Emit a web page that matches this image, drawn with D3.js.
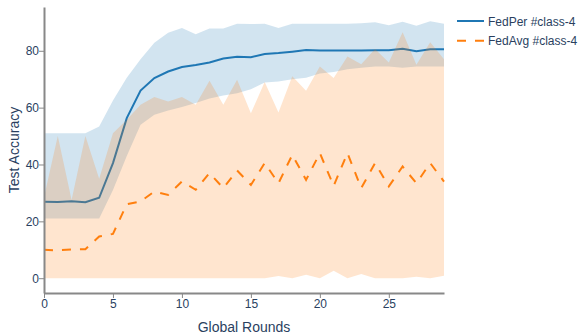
<!DOCTYPE html>
<html>
<head>
<meta charset="utf-8">
<script src="https://d3js.org/d3.v7.min.js"></script>
<style>
  body { margin: 0; background: #fff; }
  svg { font-family: "Liberation Sans", Arial, sans-serif; }
</style>
</head>
<body>
<div id="graph"></div>
<script>
window.onload = start;

var width = 581;
var height = 334;
var margin = { top: 7, bottom: 41, left: 44, right: 137 };

// global rounds
var rounds = [0, 1, 2, 3, 4, 5, 6, 7, 8, 9, 10, 11, 12, 13, 14, 15, 16, 17, 18, 19, 20, 21, 22, 23, 24, 25, 26, 27, 28, 29];

// FedPer #class-4 : mean and band
var fedPerMean = [26.9, 26.8, 27.1, 26.7, 28.3, 40.5, 56.3, 66, 70.4, 72.7, 74.3, 75, 75.9, 77.3, 77.9, 77.7, 78.9, 79.2, 79.7, 80.3, 80.1, 80.1, 80.1, 80.1, 80.2, 80.2, 80.7, 79.8, 80.5, 80.5];
var fedPerUpper = [51, 51, 51, 51, 53.4, 62.5, 70.5, 77, 82.8, 86.3, 88, 85.8, 87.8, 87.8, 89.5, 89.4, 89.5, 88, 89.5, 89.5, 89.5, 89.5, 89.5, 89.7, 90, 89, 90.2, 88.8, 90.4, 89.5];
var fedPerLower = [21, 21, 21, 21, 21, 31, 43, 54, 57.5, 59, 60.2, 61.6, 63.2, 64.3, 65.1, 66.5, 68.8, 69.2, 70, 70.5, 72, 72.5, 73.5, 74, 74.5, 74.5, 74, 74.5, 74.5, 74.5];

// FedAvg #class-4 : mean and band
var fedAvgMean = [10, 9.8, 10.1, 10.2, 14.7, 15.6, 26, 27, 30.5, 29.3, 34, 31.1, 37, 31.7, 37.9, 32.8, 40.5, 33.4, 43.4, 34.6, 44, 32.5, 44, 31.7, 40.5, 32.3, 39.3, 33.4, 40.5, 34];
var fedAvgUpper = [28.5, 50, 27.5, 50, 35, 51, 55.7, 61, 63.7, 62.2, 63.7, 61, 69.5, 61, 69.8, 58, 69, 58.3, 71, 65.9, 74.5, 70.4, 78, 75.3, 80.6, 75.9, 86.5, 75.1, 83, 77];
var fedAvgLower = [0, 0, 0, 0, 0, 0, 0, 0, 0, 0, 0, 0, 0, 0, 0, 0, 0, 0.8, 0, 1.2, 0, 2.6, 0, 1.5, 0, 0, 0, 0.5, 0, 0.9];

var xTicks = [0, 5, 10, 15, 20, 25];
var yTicks = [0, 20, 40, 60, 80];
var seriesNames = ["FedPer #class-4", "FedAvg #class-4"];

var textColor = "#2a3f5f";
var lineGray = "#888";
var blue = "#1f77b4";
var orange = "#ff7f0e";

function bandRows(upper, lower) {
  return rounds.map(function (r, i) {
    return { x: r, hi: upper[i], lo: lower[i] };
  });
}

function meanRows(mean) {
  return rounds.map(function (r, i) {
    return { x: r, y: mean[i] };
  });
}

/* MAIN FUNCTION */
function start() {
  var svg = d3.select("#graph")
    .append("svg")
    .attr("width", width)
    .attr("height", height);

  var xScale = d3.scaleLinear()
    .domain([0, 29])
    .range([margin.left, width - margin.right]);
  var yScale = d3.scaleLinear()
    .domain([-5.2, 95.4])
    .range([height - margin.bottom, margin.top]);

  var area = d3.area()
    .x(function (d) { return xScale(d.x); })
    .y0(function (d) { return yScale(d.lo); })
    .y1(function (d) { return yScale(d.hi); });
  var line = d3.line()
    .x(function (d) { return xScale(d.x); })
    .y(function (d) { return yScale(d.y); });

  // FedPer band + mean first, FedAvg drawn over it
  svg.append("path")
    .datum(bandRows(fedPerUpper, fedPerLower))
    .attr("d", area)
    .attr("fill", "rgba(31,119,180,0.2)");
  svg.append("path")
    .datum(meanRows(fedPerMean))
    .attr("d", line)
    .attr("fill", "none")
    .attr("stroke", blue)
    .attr("stroke-width", 2);

  svg.append("path")
    .datum(bandRows(fedAvgUpper, fedAvgLower))
    .attr("d", area)
    .attr("fill", "rgba(255,127,14,0.2)");
  svg.append("path")
    .datum(meanRows(fedAvgMean))
    .attr("d", line)
    .attr("fill", "none")
    .attr("stroke", orange)
    .attr("stroke-width", 2)
    .attr("stroke-dasharray", "9,9");

  // axes
  var xAxis = svg.append("g")
    .attr("transform", "translate(0," + (height - margin.bottom) + ")")
    .call(d3.axisBottom(xScale).tickValues(xTicks).tickSize(5).tickSizeOuter(0).tickPadding(1));
  var yAxis = svg.append("g")
    .attr("transform", "translate(" + margin.left + ",0)")
    .call(d3.axisLeft(yScale).tickValues(yTicks).tickSize(5).tickSizeOuter(0).tickPadding(0));

  [xAxis, yAxis].forEach(function (g) {
    g.select(".domain").attr("stroke", lineGray).attr("stroke-width", 2);
    g.selectAll(".tick line").attr("stroke", lineGray);
    g.selectAll(".tick text")
      .attr("fill", textColor)
      .attr("font-size", 12)
      .attr("font-family", "Liberation Sans, Arial, sans-serif");
  });

  svg.append("text")
    .attr("x", (margin.left + width - margin.right) / 2)
    .attr("y", 331.5)
    .attr("text-anchor", "middle")
    .attr("fill", textColor)
    .attr("font-size", 14)
    .text("Global Rounds");

  svg.append("text")
    .attr("transform", "translate(18.5," + ((margin.top + height - margin.bottom) / 2) + ") rotate(-90)")
    .attr("text-anchor", "middle")
    .attr("fill", textColor)
    .attr("font-size", 14)
    .text("Test Accuracy");

  // legend
  var legendColors = [blue, orange];
  var legendDash = [null, "9,9"];
  var legend = svg.selectAll(".legend-item")
    .data(seriesNames)
    .enter()
    .append("g")
    .attr("class", "legend-item")
    .attr("transform", function (d, i) { return "translate(457," + (21 + i * 19.7) + ")"; });

  legend.append("line")
    .attr("x1", 0)
    .attr("x2", 27)
    .attr("stroke", function (d, i) { return legendColors[i]; })
    .attr("stroke-width", 2)
    .attr("stroke-dasharray", function (d, i) { return legendDash[i]; });

  legend.append("text")
    .attr("x", 31)
    .attr("y", 4.6)
    .attr("fill", textColor)
    .attr("font-size", 12)
    .text(function (d) { return d; });
}
</script>
</body>
</html>
